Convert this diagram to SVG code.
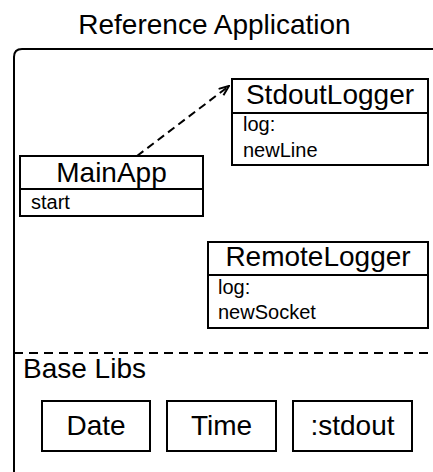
<svg xmlns="http://www.w3.org/2000/svg" width="433" height="472" viewBox="0 0 433 472">
<defs>
<style>
.t{font-family:"Liberation Sans",Arial,Helvetica,sans-serif;fill:#000}
.big{font-size:28px}
.sm{font-size:20px}
.box{fill:#fff;stroke:#000;stroke-width:2}
.ln{stroke:#000;stroke-width:2;fill:none}
</style>
<marker id="arr" viewBox="0 0 12 10" refX="11" refY="5" markerWidth="12" markerHeight="10" markerUnits="userSpaceOnUse" orient="auto">
<path d="M1,1 L11,5 L1,9" fill="none" stroke="#000" stroke-width="2"/>
</marker>
</defs>
<rect width="433" height="472" fill="#fff"/>
<text class="t big" x="214.5" y="34" text-anchor="middle">Reference Application</text>
<g id="container">
<path class="ln" d="M14,480 L14,57 Q14,49 22,49 L440,49"/>
<line class="ln" x1="14" y1="353" x2="433" y2="353" stroke-dasharray="9,6"/>
<text class="t big" x="23" y="378">Base Libs</text>
</g>
<g id="StdoutLogger">
<rect class="box" x="232" y="79" width="196" height="86"/>
<line class="ln" x1="232" y1="113" x2="428" y2="113"/>
<text class="t big" x="330" y="104" text-anchor="middle">StdoutLogger</text>
<text class="t sm" x="243" y="131">log:</text>
<text class="t sm" x="243" y="157">newLine</text>
</g>
<g id="MainApp">
<rect class="box" x="20" y="156" width="183" height="60"/>
<line class="ln" x1="20" y1="189" x2="203" y2="189"/>
<text class="t big" x="111.5" y="182" text-anchor="middle">MainApp</text>
<text class="t sm" x="31" y="209">start</text>
</g>
<g id="RemoteLogger">
<rect class="box" x="208" y="242" width="220" height="86"/>
<line class="ln" x1="208" y1="275" x2="428" y2="275"/>
<text class="t big" x="318" y="266" text-anchor="middle">RemoteLogger</text>
<text class="t sm" x="218" y="294">log:</text>
<text class="t sm" x="218" y="319">newSocket</text>
</g>
<g id="Date">
<rect class="box" x="42" y="401" width="108" height="50"/>
<text class="t big" x="96" y="435" text-anchor="middle">Date</text>
</g>
<g id="Time">
<rect class="box" x="167" y="401" width="109" height="50"/>
<text class="t big" x="221.5" y="435" text-anchor="middle">Time</text>
</g>
<g id="stdout">
<rect class="box" x="293" y="401" width="119" height="50"/>
<text class="t big" x="352.5" y="435" text-anchor="middle">:stdout</text>
</g>
<g id="connectors">
<line class="ln" x1="137" y1="156" x2="229" y2="86" stroke-dasharray="8,5" marker-end="url(#arr)"/>
</g>
</svg>
